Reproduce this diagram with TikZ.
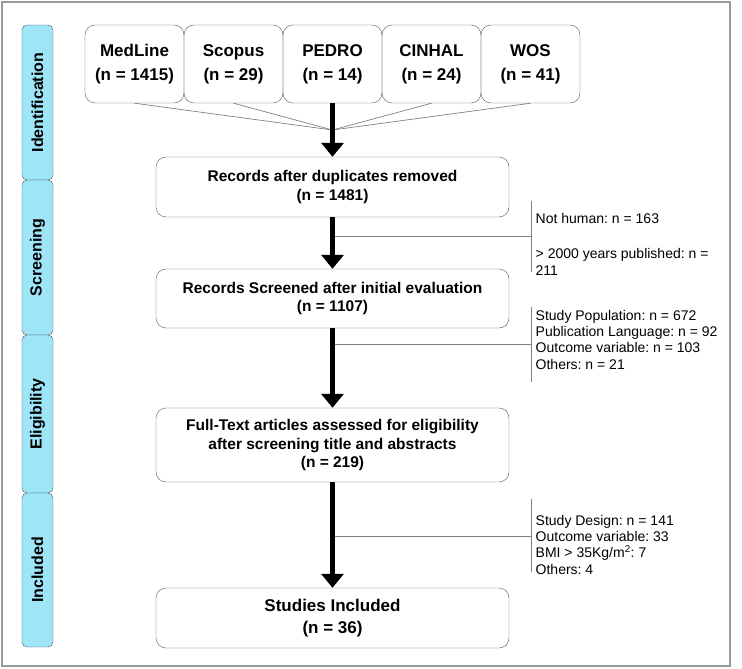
\documentclass[tikz,border=0pt]{standalone}
\usepackage{fontspec}
\setmainfont{Liberation Sans}
\usetikzlibrary{arrows.meta}
\frenchspacing

\definecolor{tabcyan}{RGB}{157,229,247}
\definecolor{boxgray}{RGB}{90,90,90}

\tikzset{
  phase/.style={draw=boxgray, fill=tabcyan, rounded corners=5pt, rotate=90,
    minimum height=31pt, inner sep=0pt, font=\fontsize{16}{18}\selectfont\bfseries},
  srcbox/.style={draw=boxgray, rounded corners=10pt, minimum width=99pt,
    minimum height=78pt, align=center, inner sep=0pt,
    font=\fontsize{17}{24}\selectfont\bfseries},
  flowbox/.style={draw=boxgray, rounded corners=10pt, minimum width=353pt,
    align=center, inner sep=0pt, font=\fontsize{15.5}{18.5}\selectfont\bfseries},
  feed/.style={draw=gray, line width=0.7pt},
  flow/.style={line width=5pt, -{Triangle[length=14pt,width=22pt]}},
  excl/.style={anchor=base west, align=left, inner xsep=4.5pt, inner ysep=0pt},
}

\begin{document}
\begin{tikzpicture}[x=1pt, y=-1pt]
        \useasboundingbox (0,0) rectangle (742,669);
        \draw[gray!80, line width=1.3pt] (2,2) rectangle (730,666);

        % phase tabs
        \node[phase, minimum width=155pt] (ident) at (37.5,102.5) {Identification};
        \node[phase, minimum width=155pt] (screen) at (37.5,257.5) {Screening};
        \node[phase, minimum width=158pt] (elig) at (37.5,414) {Eligibility};
        \node[phase, minimum width=154pt] (incl) at (37.5,570) {Included};

        % databases
        \foreach \nm/\db/\cnt [count=\i] in {medline/MedLine/1415, scopus/Scopus/29,
            pedro/PEDRO/14, cinhal/CINHAL/24, wos/WOS/41}
            \node[srcbox] (\nm) at ({35.5+99*\i},64) {\db\\(n = \cnt)};

        % flow boxes
        \node[flowbox, minimum height=60pt] (dedup) at (332.5,187)
            {Records after duplicates removed\\(n = 1481)};
        \node[flowbox, minimum height=59pt] (screened) at (332.5,298.5)
            {Records Screened after initial evaluation\\(n = 1107)};
        \node[flowbox, minimum height=74pt] (fulltext) at (332.5,445)
            {Full-Text articles assessed for eligibility\\after screening title and abstracts\\(n = 219)};
        \node[flowbox, minimum height=60pt, font=\fontsize{17}{22}\selectfont\bfseries] (studies) at (332.5,618)
            {Studies Included\\(n = 36)};

        % merge of the databases
        \coordinate (join) at (332.5,130);
        \foreach \nm in {medline,scopus,cinhal,wos}
            \draw[feed] (\nm.south) -- (join);

        % exclusions
        \coordinate (cut1) at (531,236);
        \coordinate (cut2) at (531,344);
        \coordinate (cut3) at (531,536);
        \draw[feed] (531,201) -- (531,272);
        \draw[feed] (531,307) -- (531,382);
        \draw[feed] (531,499) -- (531,572);
        \draw[feed] (dedup.south |- cut1) -- (cut1);
        \draw[feed] (screened.south |- cut2) -- (cut2);
        \draw[feed] (fulltext.south |- cut3) -- (cut3);

        \node[excl, font=\fontsize{14}{16.8}\selectfont] (ex1) at (531,275)
            {Not human: n = 163\\[17.5pt]> 2000 years published: n =\\211};
        \node[excl, font=\fontsize{14}{16.2}\selectfont] (ex2) at (531,369)
            {Study Population: n = 672\\Publication Language: n = 92\\Outcome variable: n = 103\\Others: n = 21};
        \node[excl, font=\fontsize{14}{16.3}\selectfont] (ex3) at (531,574)
            {Study Design: n = 141\\Outcome variable: 33\\BMI > 35Kg/m\textsuperscript{2}: 7\\Others: 4};

        % main arrows
        \draw[flow] (pedro.south) -- (dedup.north);
        \draw[flow] (dedup.south) -- (screened.north);
        \draw[flow] (screened.south) -- (fulltext.north);
        \draw[flow] (fulltext.south) -- (studies.north);
    \end{tikzpicture}
\end{document}
